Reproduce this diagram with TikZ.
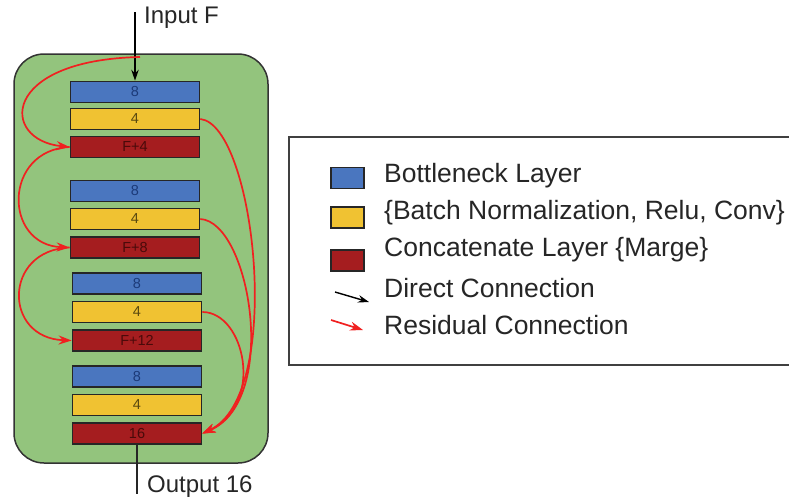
\documentclass[tikz,border=0pt]{standalone}
\usepackage{fontspec}
\setmainfont{Liberation Sans}
\usetikzlibrary{arrows.meta}
\definecolor{gbox}{HTML}{93C47D}
\definecolor{bblue}{HTML}{4A76BF}
\definecolor{tblue}{HTML}{1C3A78}
\definecolor{byel}{HTML}{F0C232}
\definecolor{tyel}{HTML}{5A4A10}
\definecolor{bred}{HTML}{A51D1F}
\definecolor{tred}{HTML}{4A0A0A}
\definecolor{resred}{HTML}{F02020}
\tikzset{
  bar/.style={draw=black!85, line width=1.7pt, minimum width=129pt, minimum height=21pt, inner sep=0pt, font=\fontsize{14.5}{14.5}\selectfont},
  bn/.style={bar, fill=bblue, text=tblue},
  cv/.style={bar, fill=byel, text=tyel},
  cc/.style={bar, fill=bred, text=tred},
  sw/.style={draw=black!85, line width=1.7pt, minimum width=33pt, minimum height=21pt, inner sep=0pt},
  legtext/.style={anchor=west, inner sep=0pt, font=\fontsize{26.5}{26.5}\selectfont, text=black!85},
  io/.style={anchor=west, inner sep=0pt, font=\fontsize{24}{24}\selectfont, text=black!85},
  res/.style={draw=resred, line width=1.7pt, -{Stealth[length=13pt,width=9pt]}},
  dir/.style={draw=black, line width=1.4pt, -{Stealth[length=11pt,width=7.5pt]}}
}
\begin{document}
\begin{tikzpicture}[x=1pt,y=-1pt]
\useasboundingbox (0,0) rectangle (789,499);
% green container
\draw[fill=gbox, draw=black!80, line width=1.5pt, rounded corners=30pt] (14,54) rectangle (268,463);
% bars
\node[bn] (b1) at (135,92) {8};
\node[cv] (c1) at (135,119) {4};
\node[cc] (m1) at (135,147) {F+4};
\node[bn] (b2) at (135,191) {8};
\node[cv] (c2) at (135,219) {4};
\node[cc] (m2) at (135,247.5) {F+8};
\node[bn] (b3) at (137,283.5) {8};
\node[cv] (c3) at (137,312) {4};
\node[cc] (m3) at (137,340.5) {F+12};
\node[bn] (b4) at (137,376.5) {8};
\node[cv] (c4) at (137,405) {4};
\node[cc] (m4) at (137,433.5) {16};
% input / output
\coordinate (inTop) at (135,12);
\coordinate (outBot) at (137,494);
\coordinate (resStart) at (140,57);
\draw[dir] (inTop) -- (b1.north);
\draw[black!85, line width=1.4pt] (m4.south) -- (outBot);
\node[io] (inlbl) at (144,18) {Input F};
\node[io] (outlbl) at (147,487) {Output 16};
% residual connections left
\draw[res] (resStart) .. controls (0,60) and (0,140) .. (m1.west);
\draw[res] (m1.west) .. controls (3,150) and (3,245) .. (m2.west);
\draw[res] (m2.west) .. controls (3,250) and (3,338) .. (m3.west);
% residual connections right
\draw[res] (c1.east) .. controls (255,125) and (285,395) .. (m4.east);
\draw[res] (c2.east) .. controls (250,222) and (280,400) .. (m4.east);
\draw[res] (c3.east) .. controls (245,312) and (265,405) .. (m4.east);
% legend
\draw[black!75, line width=1.5pt] (790,137) -- (289,137) -- (289,365) -- (790,365);
\node[sw, fill=bblue] (s1) at (347.5,178) {};
\node[sw, fill=byel] (s2) at (347.5,217.5) {};
\node[sw, fill=bred] (s3) at (347.5,260.5) {};
\node[legtext] (l1) at (384,176) {Bottleneck Layer};
\node[legtext] (l2) at (384,213) {\{Batch Normalization, Relu, Conv\}};
\node[legtext] (l3) at (384,250) {Concatenate Layer \{Marge\}};
\node[legtext] (l4) at (384,288) {Direct Connection};
\node[legtext] (l5) at (384,325) {Residual Connection};
\coordinate (da) at (335,292);
\coordinate (db) at (369,302);
\coordinate (ra) at (331,320);
\coordinate (rb) at (363,330);
\draw[dir] (da) -- (db);
\draw[res] (ra) -- (rb);
\end{tikzpicture}
\end{document}
